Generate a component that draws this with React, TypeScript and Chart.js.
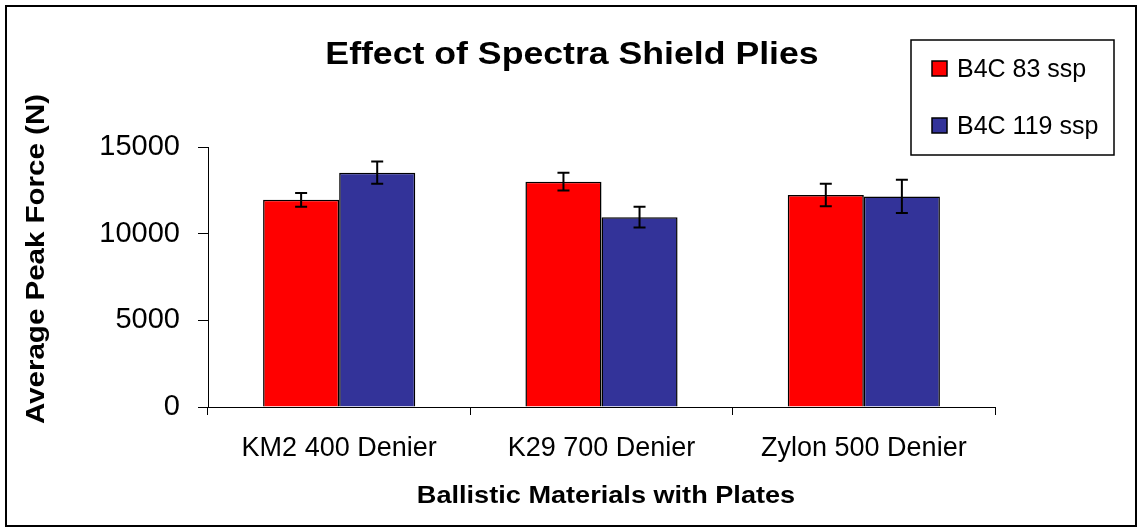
import React, { useEffect, useRef } from "react";
import { Chart, registerables } from "chart.js";

Chart.register(...registerables);

const categories = ["KM2 400 Denier", "K29 700 Denier", "Zylon 500 Denier"];
const seriesNames = ["B4C 83 ssp", "B4C 119 ssp"];
const values83 = [11950, 13000, 12230];
const values119 = [13520, 10950, 12150];
const err83 = [400, 510, 650];
const err119 = [640, 600, 960];
const colors = ["#FF0000", "#333399"];
const titleText = "Effect of Spectra Shield Plies";
const xTitle = "Ballistic Materials with Plates";
const yTitle = "Average Peak Force (N)";

const FONT = "'Liberation Sans', Arial, sans-serif";

function stretchedText(ctx: any, text: string, x: number, y: number, sx: number, rot = 0) {
  ctx.save();
  ctx.translate(x, y);
  if (rot) ctx.rotate(rot);
  ctx.scale(sx, 1);
  ctx.fillText(text, 0, 0);
  ctx.restore();
}

const extrasPlugin = {
  id: "extras",
  afterDatasetsDraw(chart: any) {
    const ctx = chart.ctx;
    const errs = [err83, err119];
    ctx.save();
    ctx.strokeStyle = "#000";
    ctx.lineWidth = 2;
    chart.data.datasets.forEach((ds: any, di: number) => {
      const meta = chart.getDatasetMeta(di);
      meta.data.forEach((bar: any, i: number) => {
        const v = ds.data[i];
        const e = errs[di][i];
        const y1 = chart.scales.y.getPixelForValue(v + e);
        const y2 = chart.scales.y.getPixelForValue(v - e);
        const x = bar.x;
        ctx.beginPath();
        ctx.moveTo(x, y1);
        ctx.lineTo(x, y2);
        ctx.moveTo(x - 6, y1);
        ctx.lineTo(x + 6, y1);
        ctx.moveTo(x - 6, y2);
        ctx.lineTo(x + 6, y2);
        ctx.stroke();
      });
    });
    ctx.restore();
  },
  afterDraw(chart: any) {
    const ctx = chart.ctx;
    ctx.save();
    // outer frame
    ctx.strokeStyle = "#000";
    ctx.lineWidth = 2;
    ctx.strokeRect(6, 6, 1130, 520);
    // title
    ctx.fillStyle = "#000";
    ctx.font = `bold 31px ${FONT}`;
    ctx.textAlign = "center";
    ctx.textBaseline = "alphabetic";
    stretchedText(ctx, titleText, 572, 64, 1.15);
    // x title
    ctx.font = `bold 24px ${FONT}`;
    stretchedText(ctx, xTitle, 606, 503, 1.13);
    // y title
    ctx.font = `bold 25px ${FONT}`;
    stretchedText(ctx, yTitle, 44, 259, 1.18, -Math.PI / 2);
    // legend
    ctx.lineWidth = 1.5;
    ctx.fillStyle = "#fff";
    ctx.fillRect(911, 40, 203, 115);
    ctx.strokeRect(911, 40, 203, 115);
    const rows = [77, 134];
    ctx.font = `25px ${FONT}`;
    ctx.textAlign = "left";
    seriesNames.forEach((name, i) => {
      const by = rows[i];
      ctx.fillStyle = colors[i];
      ctx.fillRect(932, by - 16, 15, 15);
      ctx.lineWidth = 1.5;
      ctx.strokeStyle = "#000";
      ctx.strokeRect(932, by - 16, 15, 15);
      ctx.fillStyle = "#000";
      ctx.fillText(name, 957, by);
    });
    ctx.restore();
  },
};

export default function App() {
  const ref = useRef<HTMLCanvasElement | null>(null);
  useEffect(() => {
    if (!ref.current) return;
    const chart = new Chart(ref.current, {
      type: "bar",
      data: {
        labels: categories,
        datasets: [
          {
            label: seriesNames[0],
            data: values83,
            backgroundColor: colors[0],
            borderColor: "#000",
            borderWidth: 1.5,
            barPercentage: 1,
            categoryPercentage: 0.58,
          },
          {
            label: seriesNames[1],
            data: values119,
            backgroundColor: colors[1],
            borderColor: "#000",
            borderWidth: 1.5,
            barPercentage: 1,
            categoryPercentage: 0.58,
          },
        ],
      },
      options: {
        responsive: false,
        animation: false,
        events: [],
        layout: { padding: { left: 0, top: 147, right: 1138 - 995, bottom: 0 } },
        plugins: {
          legend: { display: false },
          title: { display: false },
          tooltip: { enabled: false },
        },
        scales: {
          x: {
            afterFit: (s: any) => {
              s.height = 529 - 407;
            },
            grid: {
              offset: true,
              drawOnChartArea: false,
              tickLength: 8,
              color: "#000",
              lineWidth: 1,
            },
            border: { display: true, color: "#000", width: 1 },
            ticks: {
              color: "#000",
              font: { family: FONT, size: 27 },
              padding: 17,
              maxRotation: 0,
            },
          },
          y: {
            min: 0,
            max: 15000,
            afterFit: (s: any) => {
              s.width = 208;
            },
            grid: {
              drawOnChartArea: false,
              tickLength: 10,
              color: "#000",
              lineWidth: 1,
            },
            border: { display: true, color: "#000", width: 1 },
            ticks: {
              stepSize: 5000,
              color: "#000",
              font: { family: FONT, size: 29 },
              padding: 18,
              callback: (v: any) => String(v),
            },
          },
        },
      },
      plugins: [extrasPlugin],
    });
    return () => chart.destroy();
  }, []);
  return (
    <div style={{ position: "fixed", left: 0, top: 0, width: 1138, height: 529, background: "#fff" }}>
      <canvas ref={ref} width={1138} height={529} style={{ width: 1138, height: 529, display: "block" }} />
    </div>
  );
}
